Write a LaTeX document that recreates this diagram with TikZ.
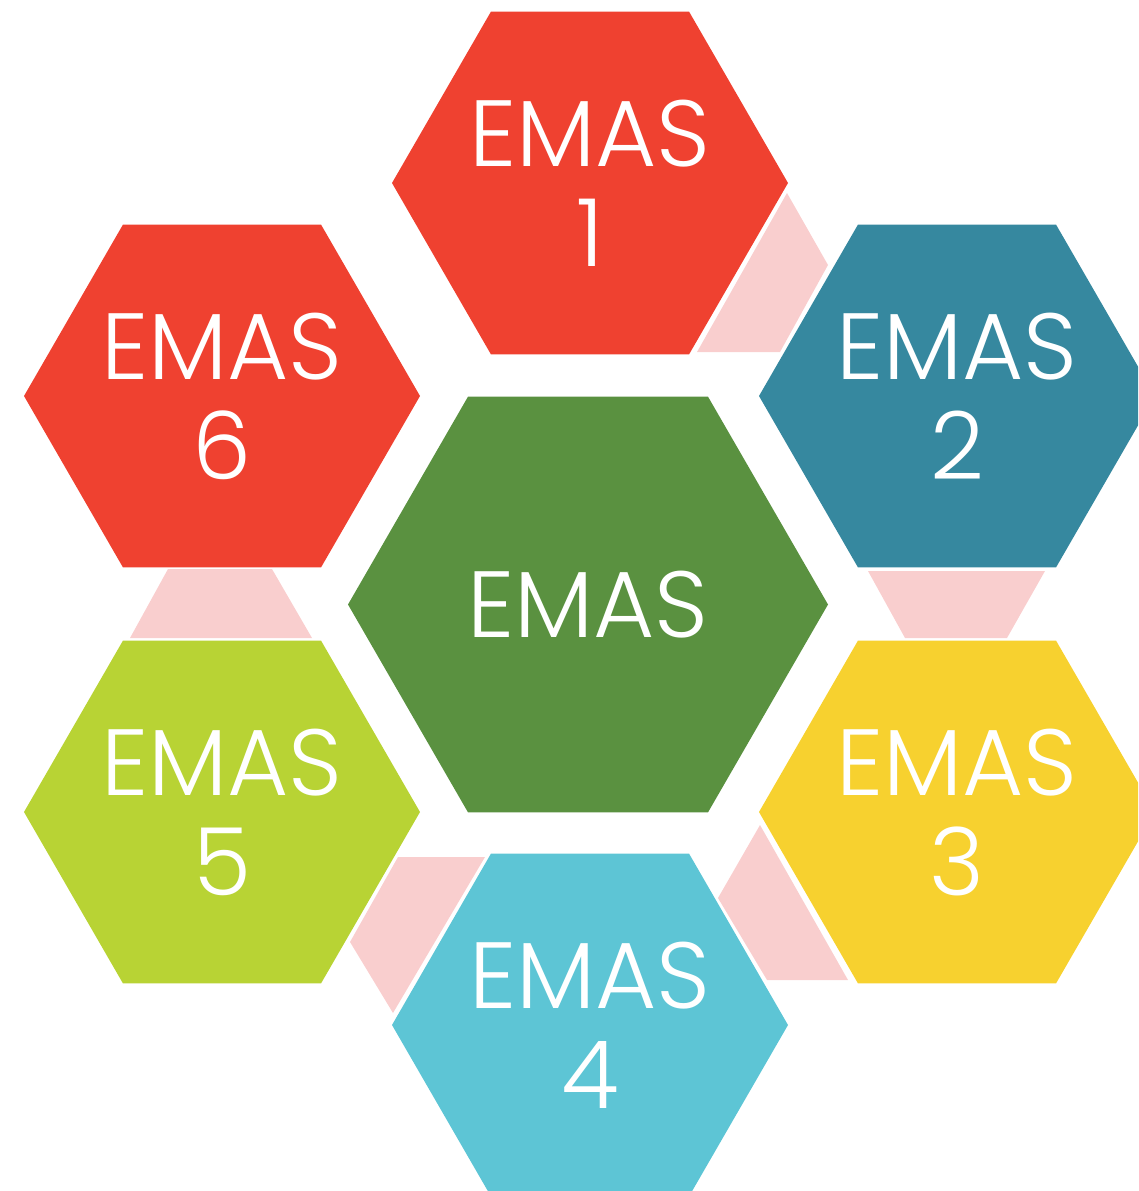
\documentclass[tikz,border=0pt]{standalone}
\usepackage{fontspec}
\setmainfont{Poppins}[UprightFont=* Light]
\usetikzlibrary{shapes.geometric}
\definecolor{cred}{HTML}{EF4130}
\definecolor{cblue}{HTML}{36889F}
\definecolor{cyellow}{HTML}{F7D12F}
\definecolor{clight}{HTML}{5DC5D5}
\definecolor{clime}{HTML}{B8D334}
\definecolor{cgreen}{HTML}{5A9140}
\definecolor{cpink}{HTML}{F9CECE}
\tikzset{
  hexa/.style={shape=regular polygon, regular polygon sides=6, inner sep=0pt, outer sep=0pt,
    minimum size=396pt, draw=none, text=white, align=center,
    font=\fontsize{94}{100}\selectfont},
  hexbig/.style={hexa, minimum size=480pt},
  link/.style={fill=cpink, draw=none}
}
\begin{document}
\begin{tikzpicture}[x=1pt,y=-1pt]
\useasboundingbox (0,0) rectangle (1138,1191);
\clip (0,0) rectangle (1138,1191);
% pink links
\fill[link] (787,193) -- (828,265) -- (780,352) -- (697,352) -- cycle;
\fill[link] (868,571) -- (1045,571) -- (1007,638) -- (905,638) -- cycle;
\fill[link] (760,825) -- (718,898) -- (767,980) -- (848,980) -- cycle;
\fill[link] (398,857) -- (485,857) -- (393,1013) -- (350,942) -- cycle;
\fill[link] (168,569) -- (272,569) -- (312,638) -- (130,638) -- cycle;
% hexagons
\node[hexbig, fill=cgreen] (hc) at (588,604.5) {EMAS};
\node[hexa, fill=cred] (h1) at (590,183) {EMAS\\1};
\node[hexa, fill=cblue] (h2) at (957,396) {EMAS\\2};
\node[hexa, fill=cyellow] (h3) at (957,812) {EMAS\\3};
\node[hexa, fill=clight] (h4) at (590,1025) {EMAS\\4};
\node[hexa, fill=clime] (h5) at (222,812) {EMAS\\5};
\node[hexa, fill=cred] (h6) at (222,396) {EMAS\\6};
\end{tikzpicture}
\end{document}
